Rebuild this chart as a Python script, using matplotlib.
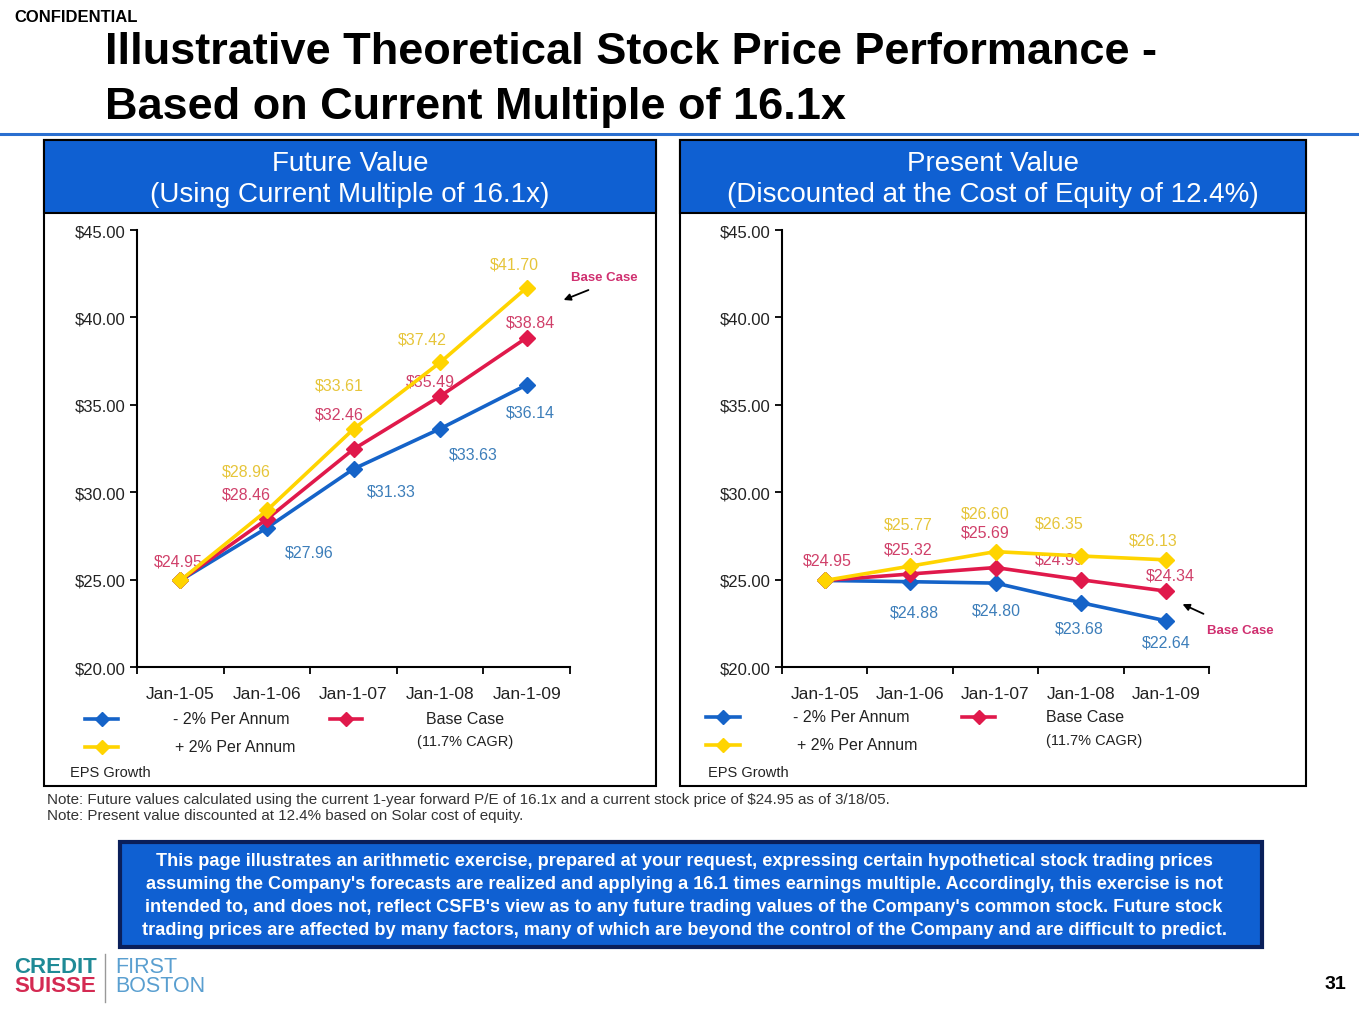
import matplotlib.pyplot as plt
from matplotlib.patches import Rectangle

W, H = 1359, 1020

# ---- data ----
dates = ['Jan-1-05', 'Jan-1-06', 'Jan-1-07', 'Jan-1-08', 'Jan-1-09']

fv_minus = [24.95, 27.96, 31.33, 33.63, 36.14]
fv_base = [24.95, 28.46, 32.46, 35.49, 38.84]
fv_plus = [24.95, 28.96, 33.61, 37.42, 41.70]

pv_minus = [24.95, 24.88, 24.80, 23.68, 22.64]
pv_base = [24.95, 25.32, 25.69, 24.99, 24.34]
pv_plus = [24.95, 25.77, 26.60, 26.35, 26.13]

yticks = [20, 25, 30, 35, 40, 45]

# colours
c_yel, c_red, c_blu = '#FFD400', '#E0194B', '#1563C8'
t_yel, t_red, t_blu = '#E6C53A', '#D0406A', '#3D7EBA'
c_hdr = '#0F60D2'

# label offsets in pixels (None = no label)
lo_fv = {
    'plus': [None, (-21, 39), (-14, 44), (-18, 23), (-12, 24)],
    'base': [(-2, 19), (-21, 25), (-14, 35), (-10, 15), (4, 16)],
    'minus': [None, (42, -24), (38, -22), (33, -25), (4, -27)],
}
lo_pv = {
    'plus': [None, (-2, 42), (-10, 39), (-22, 33), (-13, 20)],
    'base': [(3, 20), (-2, 25), (-10, 36), (-22, 21), (4, 16)],
    'minus': [None, (4, -30), (1, -27), (-2, -25), (0, -21)],
}

fig = plt.figure(figsize=(W / 100, H / 100), dpi=100)
plt.rcParams['font.family'] = ['Liberation Sans', 'DejaVu Sans']

# background axes in pixel coords
bg = fig.add_axes([0, 0, 1, 1], zorder=0)
bg.set_xlim(0, W)
bg.set_ylim(H, 0)
bg.axis('off')

bg.text(14, 18, 'CONFIDENTIAL', fontsize=12, fontweight='bold', va='center', ha='left')
bg.text(105, 64, 'Illustrative Theoretical Stock Price Performance -', fontsize=32.5,
        fontweight='bold', va='baseline', ha='left')
bg.text(105, 119, 'Based on Current Multiple of 16.1x', fontsize=32.5,
        fontweight='bold', va='baseline', ha='left')
bg.plot([0, W], [135, 135], color='#2A6FD0', lw=2.2)

panels = [(44, 656, 'Future Value', '(Using Current Multiple of 16.1x)'),
          (680, 1306, 'Present Value', '(Discounted at the Cost of Equity of 12.4%)')]
for x0, x1, h1, h2 in panels:
    bg.add_patch(Rectangle((x0, 141), x1 - x0, 787 - 141, fill=False, ec='black', lw=1.5))
    bg.add_patch(Rectangle((x0, 141), x1 - x0, 214 - 141, fc=c_hdr, ec='black', lw=1.5))
    cx = (x0 + x1) / 2
    bg.text(cx, 164, h1, color='white', fontsize=20, ha='center', va='center')
    bg.text(cx, 195, h2, color='white', fontsize=20, ha='center', va='center')


def draw_chart(left, right, minus, base, plus, offs):
    ax = fig.add_axes([left / W, (H - 668) / H, (right - left) / W, (668 - 231) / H], zorder=2)
    ax.patch.set_alpha(0)
    x = range(len(dates))
    for vals, c in [(minus, c_blu), (base, c_red), (plus, c_yel)]:
        ax.plot(x, vals, color=c, lw=2.6, marker='D', ms=8, zorder=3)
    for key, vals, tc in [('plus', plus, t_yel), ('base', base, t_red), ('minus', minus, t_blu)]:
        for i, v in enumerate(vals):
            if offs[key][i] is None:
                continue
            ax.annotate('$%.2f' % v, (i, v), xytext=offs[key][i], textcoords='offset pixels',
                        ha='center', va='center', fontsize=11.5, color=tc, zorder=1)
    ax.set_xlim(-0.5, 4.5)
    ax.set_ylim(20, 45)
    ax.set_yticks(yticks)
    ax.set_yticklabels(['$%.2f' % t for t in yticks], fontsize=12, color='#222222')
    ax.set_xticks([i - 0.5 for i in range(6)])
    ax.set_xticklabels([])
    ax.set_xticks(list(x), minor=True)
    ax.set_xticklabels(dates, minor=True, fontsize=12.5, color='#222222')
    ax.tick_params(axis='x', which='minor', length=0, pad=14)
    ax.tick_params(axis='both', which='major', direction='out', length=5, width=1.3)
    for s in ['top', 'right']:
        ax.spines[s].set_visible(False)
    for s in ['left', 'bottom']:
        ax.spines[s].set_linewidth(1.5)
    return ax


draw_chart(137, 570, fv_minus, fv_base, fv_plus, lo_fv)
draw_chart(782, 1209, pv_minus, pv_base, pv_plus, lo_pv)


# legends
def swatch(x0, x1, y, c):
    bg.plot([x0, x1], [y, y], color=c, lw=2.6)
    bg.plot((x0 + x1) / 2, y, marker='D', ms=7, color=c)


swatch(85, 118, 720, c_blu)
swatch(85, 118, 748, c_yel)
swatch(330, 362, 720, c_red)
bg.text(231, 720, '- 2% Per Annum', fontsize=11.5, ha='center', va='center', color='#222')
bg.text(235, 748, '+ 2% Per Annum', fontsize=11.5, ha='center', va='center', color='#222')
bg.text(465, 720, 'Base Case', fontsize=11.5, ha='center', va='center', color='#222')
bg.text(465, 742, '(11.7% CAGR)', fontsize=10.5, ha='center', va='center', color='#222')
bg.text(70, 773, 'EPS Growth', fontsize=10.5, ha='left', va='center', color='#222')

swatch(706, 740, 718, c_blu)
swatch(706, 740, 746, c_yel)
swatch(962, 995, 718, c_red)
bg.text(793, 718, '- 2% Per Annum', fontsize=11.5, ha='left', va='center', color='#222')
bg.text(797, 746, '+ 2% Per Annum', fontsize=11.5, ha='left', va='center', color='#222')
bg.text(1046, 718, 'Base Case', fontsize=11.5, ha='left', va='center', color='#222')
bg.text(1046, 741, '(11.7% CAGR)', fontsize=10.5, ha='left', va='center', color='#222')
bg.text(708, 773, 'EPS Growth', fontsize=10.5, ha='left', va='center', color='#222')

# base case callouts
bg.text(604, 278, 'Base Case', fontsize=9.5, fontweight='bold', color='#D03070', ha='center', va='center')
bg.annotate('', xy=(561, 302), xytext=(591, 290),
            arrowprops=dict(arrowstyle='-|>', color='black', lw=1.3, mutation_scale=10))
bg.text(1240, 631, 'Base Case', fontsize=9.5, fontweight='bold', color='#D03070', ha='center', va='center')
bg.annotate('', xy=(1180, 604), xytext=(1206, 616),
            arrowprops=dict(arrowstyle='-|>', color='black', lw=1.3, mutation_scale=10))

# notes
bg.text(47, 800, 'Note: Future values calculated using the current 1-year forward P/E of 16.1x and a '
        'current stock price of $24.95 as of 3/18/05.', fontsize=10.9, ha='left', va='center', color='#333')
bg.text(47, 816, 'Note: Present value discounted at 12.4% based on Solar cost of equity.',
        fontsize=10.9, ha='left', va='center', color='#333')

# disclaimer box
bg.add_patch(Rectangle((120, 843), 1262 - 120, 948 - 843, fc=c_hdr, ec='#0A1F5A', lw=3))
disc = ["This page illustrates an arithmetic exercise, prepared at your request, expressing certain hypothetical stock trading prices",
        "assuming the Company's forecasts are realized and applying a 16.1 times earnings multiple. Accordingly, this exercise is not",
        "intended to, and does not, reflect CSFB's view as to any future trading values of the Company's common stock. Future stock",
        "trading prices are affected by many factors, many of which are beyond the control of the Company and are difficult to predict."]
for k, line in enumerate(disc):
    bg.text(684, 862 + 23 * k, line, fontsize=13.1, fontweight='bold', color='white',
            ha='center', va='center')

# logo + page number
bg.text(14, 968, 'CREDIT', fontsize=16, fontweight='bold', color='#1F8A96', ha='left', va='center')
bg.text(14, 987, 'SUISSE', fontsize=16, fontweight='bold', color='#D42A52', ha='left', va='center')
bg.plot([105, 105], [955, 1003], color='#999999', lw=1)
bg.text(115, 968, 'FIRST', fontsize=15.5, color='#5A9FD0', ha='left', va='center')
bg.text(115, 987, 'BOSTON', fontsize=15.5, color='#5A9FD0', ha='left', va='center')
bg.text(1335, 985, '31', fontsize=14, fontweight='bold', ha='center', va='center')

fig.savefig('out.png', dpi=100)
